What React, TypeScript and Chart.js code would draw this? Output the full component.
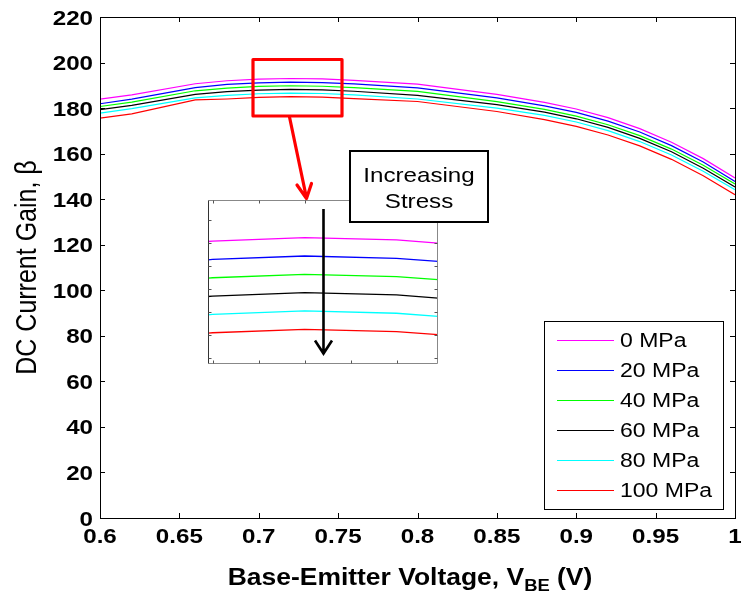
import React, { useEffect, useRef } from "react";
import { Chart, registerables } from "chart.js";

Chart.register(...registerables);

// ---------- data ----------
const VBE = [0.6, 0.62, 0.66, 0.68, 0.7, 0.72, 0.74, 0.76, 0.8, 0.85, 0.88, 0.9, 0.92, 0.94, 0.96, 0.98, 1.0];

const GAIN_0 = [183.9, 185.8, 190.7, 192.0, 192.7, 193.0, 192.8, 192.2, 190.5, 186.0, 182.5, 179.6, 175.8, 171.0, 165.0, 157.8, 149.3];
const GAIN_20 = [181.9, 183.9, 189.0, 190.4, 191.1, 191.4, 191.2, 190.6, 188.9, 184.5, 181.0, 178.1, 174.3, 169.5, 163.5, 156.3, 147.8];
const GAIN_40 = [180.7, 182.6, 187.6, 188.8, 189.5, 189.8, 189.6, 189.0, 187.3, 182.8, 179.4, 176.5, 172.7, 167.9, 162.0, 154.9, 146.7];
const GAIN_60 = [179.3, 181.2, 186.0, 187.2, 187.9, 188.2, 188.0, 187.4, 185.6, 181.5, 178.2, 175.3, 171.5, 166.7, 160.8, 153.6, 145.4];
const GAIN_80 = [177.8, 179.8, 184.5, 185.6, 186.3, 186.6, 186.4, 185.8, 184.0, 180.0, 176.8, 173.9, 170.1, 165.3, 159.4, 152.3, 144.2];
const GAIN_100 = [175.6, 177.5, 183.6, 184.0, 184.7, 185.0, 184.8, 184.2, 182.9, 178.5, 174.9, 172.0, 168.2, 163.4, 157.5, 150.3, 142.0];

const SERIES = [GAIN_0, GAIN_20, GAIN_40, GAIN_60, GAIN_80, GAIN_100];
const SERIES_LABELS = ["0 MPa", "20 MPa", "40 MPa", "60 MPa", "80 MPa", "100 MPa"];
const SERIES_COLORS = ["#ff00ff", "#0000ff", "#00ff00", "#000000", "#00ffff", "#ff0000"];

const X_TICKS = [0.6, 0.65, 0.7, 0.75, 0.8, 0.85, 0.9, 0.95, 1.0];
const X_TICK_LABELS = ["0.6", "0.65", "0.7", "0.75", "0.8", "0.85", "0.9", "0.95", "1"];
const Y_TICKS = [0, 20, 40, 60, 80, 100, 120, 140, 160, 180, 200, 220];
const Y_TICK_LABELS = ["0", "20", "40", "60", "80", "100", "120", "140", "160", "180", "200", "220"];

const INSET_X_TICKS = [0.7, 0.71, 0.72, 0.73, 0.74];
const INSET_Y_TICKS = [182.5, 184.5, 186.5, 188.5, 190.5, 192.5, 194.5];

const X_TITLE_MAIN = "Base-Emitter Voltage, V";
const X_TITLE_SUB = "BE";
const X_TITLE_TAIL = " (V)";
const Y_TITLE = "DC Current Gain, \u03b2";
const NOTE_LINES = ["Increasing", "Stress"];

const FONT = "'Liberation Sans', Arial, Helvetica, sans-serif";
const SX = 1.15; // horizontal stretch of text in the reference

function makeDatasets(width: number) {
  return SERIES.map((s, i) => ({
    label: SERIES_LABELS[i],
    data: VBE.map((v, j) => ({ x: v, y: s[j] })),
    borderColor: SERIES_COLORS[i],
    backgroundColor: SERIES_COLORS[i],
    borderWidth: width,
    pointRadius: 0,
    tension: 0,
    fill: false,
  }));
}

function text(ctx: CanvasRenderingContext2D, t: string, x: number, y: number, font: string, align: CanvasTextAlign) {
  ctx.save();
  ctx.font = font;
  ctx.translate(x, y);
  ctx.scale(SX, 1);
  ctx.textAlign = align;
  ctx.textBaseline = "alphabetic";
  ctx.fillStyle = "#000";
  ctx.fillText(t, 0, 0);
  ctx.restore();
}

const mainPlugin = {
  id: "mainDecor",
  beforeDraw(chart: any) {
    const ctx = chart.ctx as CanvasRenderingContext2D;
    ctx.save();
    ctx.fillStyle = "#fff";
    ctx.fillRect(0, 0, chart.width, chart.height);
    ctx.restore();
  },
  afterDraw(chart: any) {
    const ctx = chart.ctx as CanvasRenderingContext2D;
    const { left, right, top, bottom } = chart.chartArea;
    const xs = chart.scales.x;
    const ys = chart.scales.y;
    ctx.save();
    ctx.strokeStyle = "#000";
    ctx.lineWidth = 1;
    ctx.strokeRect(Math.round(left) + 0.5, Math.round(top) + 0.5, Math.round(right - left), Math.round(bottom - top));
    ctx.beginPath();
    X_TICKS.forEach((v) => {
      const px = Math.round(xs.getPixelForValue(v)) + 0.5;
      ctx.moveTo(px, bottom);
      ctx.lineTo(px, bottom - 5);
      ctx.moveTo(px, top);
      ctx.lineTo(px, top + 5);
    });
    Y_TICKS.forEach((v) => {
      const py = Math.round(ys.getPixelForValue(v)) + 0.5;
      ctx.moveTo(left, py);
      ctx.lineTo(left + 5, py);
      ctx.moveTo(right, py);
      ctx.lineTo(right - 5, py);
    });
    ctx.stroke();

    // tick labels
    const tickFont = `bold 21px ${FONT}`;
    X_TICKS.forEach((v, i) => {
      text(ctx, X_TICK_LABELS[i], xs.getPixelForValue(v), bottom + 25, tickFont, "center");
    });
    Y_TICKS.forEach((v, i) => {
      text(ctx, Y_TICK_LABELS[i], left - 7, ys.getPixelForValue(v) + 7.5, tickFont, "right");
    });

    // x title with subscript
    ctx.save();
    ctx.fillStyle = "#000";
    ctx.textBaseline = "alphabetic";
    ctx.textAlign = "left";
    const fMain = `bold 23px ${FONT}`;
    const fSub = `bold 16px ${FONT}`;
    ctx.font = fMain;
    const w1 = ctx.measureText(X_TITLE_MAIN).width;
    const w3 = ctx.measureText(X_TITLE_TAIL).width;
    ctx.font = fSub;
    const w2 = ctx.measureText(X_TITLE_SUB).width;
    const total = (w1 + w2 + w3) * SX;
    const cx = 410;
    const base = 585;
    ctx.translate(cx - total / 2, base);
    ctx.scale(SX, 1);
    ctx.font = fMain;
    ctx.fillText(X_TITLE_MAIN, 0, 0);
    ctx.font = fSub;
    ctx.fillText(X_TITLE_SUB, w1, 6);
    ctx.font = fMain;
    ctx.fillText(X_TITLE_TAIL, w1 + w2, 0);
    ctx.restore();

    // y title
    ctx.save();
    ctx.fillStyle = "#000";
    ctx.translate(36, (top + bottom) / 2);
    ctx.rotate(-Math.PI / 2);
    ctx.scale(1, SX);
    ctx.font = `25px ${FONT}`;
    ctx.textAlign = "center";
    ctx.textBaseline = "alphabetic";
    ctx.fillText(Y_TITLE, 0, 0);
    ctx.restore();

    // legend
    const lx = 544.5, ly = 321.5, lw = 179, lh = 188;
    ctx.fillStyle = "#fff";
    ctx.fillRect(lx, ly, lw, lh);
    ctx.strokeStyle = "#000";
    ctx.lineWidth = 1;
    ctx.strokeRect(lx, ly, lw, lh);
    SERIES_LABELS.forEach((lab, i) => {
      const ry = 339.5 + i * 30.1;
      ctx.beginPath();
      ctx.strokeStyle = SERIES_COLORS[i];
      ctx.lineWidth = 1;
      ctx.moveTo(557, Math.round(ry) + 0.5);
      ctx.lineTo(614, Math.round(ry) + 0.5);
      ctx.stroke();
      text(ctx, lab, 620, ry + 7.3, `20px ${FONT}`, "left");
    });
    ctx.restore();
  },
};

const insetPlugin = {
  id: "insetDecor",
  beforeDatasetsDraw(chart: any) {
    const ctx = chart.ctx as CanvasRenderingContext2D;
    const { left, right, top, bottom } = chart.chartArea;
    ctx.save();
    ctx.fillStyle = "#fff";
    ctx.fillRect(left, top, right - left, bottom - top);
    ctx.restore();
  },
  afterDraw(chart: any) {
    const ctx = chart.ctx as CanvasRenderingContext2D;
    const { left, right, top, bottom } = chart.chartArea;
    const xs = chart.scales.x;
    const ys = chart.scales.y;
    const L = Math.round(left) + 0.5, R = Math.round(right) - 0.5, T = Math.round(top) + 0.5, B = Math.round(bottom) - 0.5;
    ctx.save();
    ctx.lineWidth = 1;
    ctx.strokeStyle = "#888";
    ctx.beginPath();
    ctx.moveTo(L, T); ctx.lineTo(R, T); ctx.lineTo(R, B); ctx.lineTo(L, B);
    ctx.stroke();
    ctx.strokeStyle = "#333";
    ctx.beginPath();
    ctx.moveTo(L, T); ctx.lineTo(L, B);
    ctx.stroke();
    ctx.strokeStyle = "#555";
    ctx.beginPath();
    INSET_X_TICKS.forEach((v) => {
      const px = Math.round(xs.getPixelForValue(v)) + 0.5;
      ctx.moveTo(px, B); ctx.lineTo(px, B - 3);
      ctx.moveTo(px, T); ctx.lineTo(px, T + 3);
    });
    INSET_Y_TICKS.forEach((v) => {
      const py = Math.round(ys.getPixelForValue(v)) + 0.5;
      ctx.moveTo(L, py); ctx.lineTo(L + 3, py);
      ctx.moveTo(R, py); ctx.lineTo(R - 3, py);
    });
    ctx.stroke();

    // red zoom box
    ctx.strokeStyle = "#ff0000";
    ctx.lineWidth = 3.2;
    ctx.lineJoin = "round";
    ctx.strokeRect(253, 59.5, 89, 56.5);
    // red arrow
    ctx.lineCap = "round";
    ctx.beginPath();
    ctx.moveTo(289.5, 117);
    ctx.lineTo(306.5, 198);
    ctx.moveTo(297, 185);
    ctx.lineTo(306.5, 198.5);
    ctx.lineTo(311.5, 183.5);
    ctx.stroke();

    // black arrow
    ctx.strokeStyle = "#000";
    ctx.lineWidth = 2.6;
    ctx.lineCap = "butt";
    ctx.lineJoin = "miter";
    ctx.beginPath();
    ctx.moveTo(323.5, 209);
    ctx.lineTo(323.5, 353);
    ctx.moveTo(315, 340.5);
    ctx.lineTo(323.5, 353.5);
    ctx.lineTo(332, 340.5);
    ctx.stroke();

    // note box
    ctx.fillStyle = "#fff";
    ctx.fillRect(350, 151, 138, 71);
    ctx.lineWidth = 2;
    ctx.strokeStyle = "#000";
    ctx.strokeRect(350, 151, 138, 71);
    text(ctx, NOTE_LINES[0], 419, 181.5, `21px ${FONT}`, "center");
    text(ctx, NOTE_LINES[1], 419, 208, `21px ${FONT}`, "center");
    ctx.restore();
  },
};

export default function App() {
  const mainRef = useRef<HTMLCanvasElement>(null);
  const insetRef = useRef<HTMLCanvasElement>(null);

  useEffect(() => {
    if (!mainRef.current || !insetRef.current) return;
    const main = new Chart(mainRef.current, {
      type: "line",
      data: { datasets: makeDatasets(1.2) as any },
      options: {
        animation: false,
        responsive: false,
        devicePixelRatio: 1,
        layout: { padding: { left: 100, top: 17, right: 7, bottom: 78 } },
        plugins: { legend: { display: false }, tooltip: { enabled: false } },
        scales: {
          x: { type: "linear", min: 0.6, max: 1.0, display: false },
          y: { type: "linear", min: 0, max: 220, display: false },
        },
      },
      plugins: [mainPlugin],
    });
    const inset = new Chart(insetRef.current, {
      type: "line",
      data: { datasets: makeDatasets(1.3) as any },
      options: {
        animation: false,
        responsive: false,
        devicePixelRatio: 1,
        layout: { padding: { left: 208, top: 200, right: 304, bottom: 232 } },
        plugins: { legend: { display: false }, tooltip: { enabled: false } },
        scales: {
          x: { type: "linear", min: 0.699, max: 0.749, display: false },
          y: { type: "linear", min: 181.97, max: 196.29, display: false },
        },
      },
      plugins: [insetPlugin],
    });
    return () => {
      main.destroy();
      inset.destroy();
    };
  }, []);

  return (
    <div style={{ position: "fixed", left: 0, top: 0, width: 742, height: 596, background: "#fff" }}>
      <canvas ref={mainRef} width={742} height={596} style={{ position: "absolute", left: 0, top: 0 }} />
      <canvas ref={insetRef} width={742} height={596} style={{ position: "absolute", left: 0, top: 0 }} />
    </div>
  );
}
